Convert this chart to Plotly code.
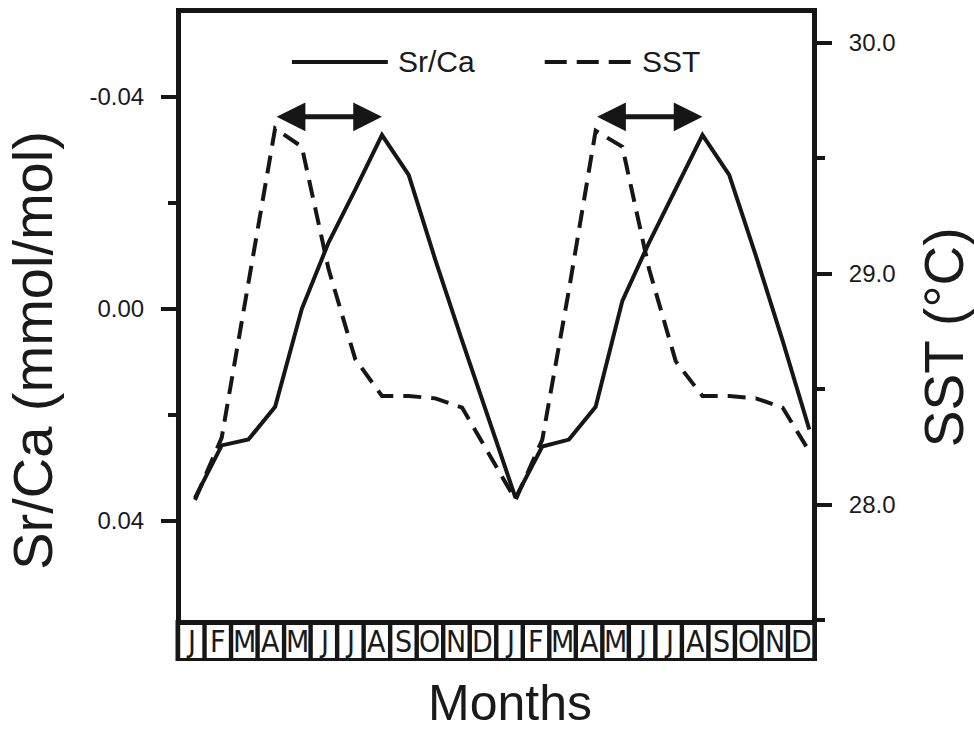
import numpy as np
import plotly.graph_objects as go

# ---------------- data ----------------
month_labels = ["J", "F", "M", "A", "M", "J", "J", "A", "S", "O", "N", "D"] * 2
month_index = list(range(24))

srca = [0.0357, 0.0258, 0.0247, 0.0185, 0.0000, -0.0125, -0.0225, -0.0328,
        -0.0253, -0.0092, 0.0060, 0.0206,
        0.0357, 0.0260, 0.0247, 0.0185, -0.0015, -0.0125, -0.0225, -0.0328,
        -0.0253, -0.0100, 0.0060, 0.0228]

sst = [28.02, 28.29, 28.96, 29.63, 29.55, 29.02, 28.63, 28.47, 28.47, 28.46, 28.42, 28.22,
       28.02, 28.28, 28.93, 29.62, 29.55, 29.02, 28.62, 28.47, 28.47, 28.46, 28.42, 28.23]

left_tickvals = [-0.04, 0.0, 0.04]
left_ticktext = ["-0.04", "0.00", "0.04"]
left_minor = [-0.02, 0.02]
right_tickvals = [28.0, 29.0, 30.0]
right_ticktext = ["28.0", "29.0", "30.0"]
right_minor = [27.5, 28.5, 29.5]
arrow_level = 29.68

INK = "#161616"
TXT = "#1a1a1a"
FONT = "Liberation Sans, Arial, Helvetica, sans-serif"
NARROW = "Liberation Sans Narrow, Arial Narrow, DejaVu Sans Condensed, sans-serif"

# plot-area geometry in page pixels
PL, PR, PT, PB = 181.0, 812.5, 13.0, 620.5
W, H = PR - PL, PB - PT


def px(x):
    return (x - PL) / W


def py(y):
    return (PB - y) / H


fig = go.Figure()
fig.add_trace(go.Scatter(x=month_index, y=srca, mode="lines", name="Sr/Ca",
                         line=dict(color=INK, width=4), yaxis="y"))
fig.add_trace(go.Scatter(x=month_index, y=sst, mode="lines", name="SST",
                         line=dict(color=INK, width=4, dash="18px,10px"), yaxis="y2"))

fig.update_layout(
    width=974, height=733,
    margin=dict(l=PL, r=974 - PR, t=PT, b=733 - PB, autoexpand=False),
    paper_bgcolor="white", plot_bgcolor="white",
    showlegend=False,
    font=dict(family=FONT, color=TXT),
    xaxis=dict(range=[-0.524, 23.10], showgrid=False, zeroline=False,
               showticklabels=False, ticks="",
               showline=True, linecolor=INK, linewidth=5, mirror=True),
    yaxis=dict(range=[0.05877, -0.05585], showgrid=False, zeroline=False,
               tickvals=left_tickvals, ticktext=left_ticktext,
               ticks="outside", ticklen=15, tickwidth=4, tickcolor=INK,
               tickfont=dict(size=24, family=FONT, color=TXT),
               ticklabelstandoff=12,
               minor=dict(tickvals=left_minor, ticks="outside", ticklen=8,
                          tickwidth=4, tickcolor=INK),
               showline=True, linecolor=INK, linewidth=5),
    yaxis2=dict(range=[27.4995, 30.1299], overlaying="y", side="right",
                showgrid=False, zeroline=False,
                tickvals=right_tickvals, ticktext=right_ticktext,
                ticks="outside", ticklen=15, tickwidth=4, tickcolor=INK,
                tickfont=dict(size=24, family=FONT, color=TXT),
                ticklabelstandoff=12,
                minor=dict(tickvals=right_minor, ticks="outside", ticklen=8,
                           tickwidth=4, tickcolor=INK),
                showline=True, linecolor=INK, linewidth=5),
)

shapes = []
annotations = []
# month strip below the frame
shapes.append(dict(type="rect", xref="paper", yref="paper",
                   x0=px(175.5), x1=px(817.5), y0=py(661.5), y1=py(620.5),
                   fillcolor=INK, line=dict(width=0), layer="above"))
cell = (815.0 - 178.0) / 24
for k, lab in enumerate(month_labels):
    left = 178.0 + cell * k
    shapes.append(dict(type="rect", xref="paper", yref="paper",
                       x0=px(left + 2.2), x1=px(left + cell - 2.2),
                       y0=py(658.5), y1=py(625.5),
                       fillcolor="white", line=dict(width=0), layer="above"))
    annotations.append(dict(xref="paper", yref="paper", x=px(left + cell / 2),
                            y=py(642.5), text=lab, showarrow=False,
                            xanchor="center", yanchor="middle",
                            font=dict(size=30, family=NARROW, color=TXT)))

# legend drawn inside the frame
ly = py(62)
shapes.append(dict(type="line", xref="paper", yref="paper",
                   x0=px(292), x1=px(388), y0=ly, y1=ly,
                   line=dict(color=INK, width=4)))
shapes.append(dict(type="line", xref="paper", yref="paper",
                   x0=px(545), x1=px(632), y0=ly, y1=ly,
                   line=dict(color=INK, width=4, dash="22px,10px")))
annotations.append(dict(xref="paper", yref="paper", x=px(396), y=ly,
                        text="Sr/Ca", showarrow=False, xanchor="left", yanchor="middle",
                        font=dict(size=30, family=FONT, color=TXT)))
annotations.append(dict(xref="paper", yref="paper", x=px(640), y=ly,
                        text="SST", showarrow=False, xanchor="left", yanchor="middle",
                        font=dict(size=30, family=FONT, color=TXT)))

# lag arrows: from SST peak to Sr/Ca peak in each year
for yr in range(2):
    s = slice(12 * yr, 12 * yr + 12)
    i_sst = 12 * yr + int(np.argmax(sst[s]))
    i_sr = 12 * yr + int(np.argmin(srca[s]))
    annotations.append(dict(x=month_index[i_sr], y=arrow_level, xref="x", yref="y2",
                            ax=month_index[i_sst], ay=arrow_level, axref="x", ayref="y2",
                            text="", showarrow=True, arrowside="end+start",
                            arrowhead=2, startarrowhead=2, arrowwidth=5,
                            arrowsize=1.15, startarrowsize=1.15, arrowcolor=INK,
                            standoff=0, startstandoff=0))

# axis titles
annotations.append(dict(xref="paper", yref="paper", x=px(33), y=py(351),
                        text="Sr/Ca (mmol/mol)", textangle=-90, showarrow=False,
                        xanchor="center", yanchor="middle",
                        font=dict(size=56, family=FONT, color=TXT)))
annotations.append(dict(xref="paper", yref="paper", x=px(944), y=py(337),
                        text="SST (°C)", textangle=-90, showarrow=False,
                        xanchor="center", yanchor="middle",
                        font=dict(size=55, family=FONT, color=TXT)))
annotations.append(dict(xref="paper", yref="paper", x=px(510), y=py(704),
                        text="Months", showarrow=False,
                        xanchor="center", yanchor="middle",
                        font=dict(size=50, family=FONT, color=TXT)))

fig.update_layout(shapes=shapes, annotations=annotations)
fig.write_html("out.html", config={"displayModeBar": False},
               post_script="document.body.style.margin='0px';document.body.style.overflow='hidden';")
